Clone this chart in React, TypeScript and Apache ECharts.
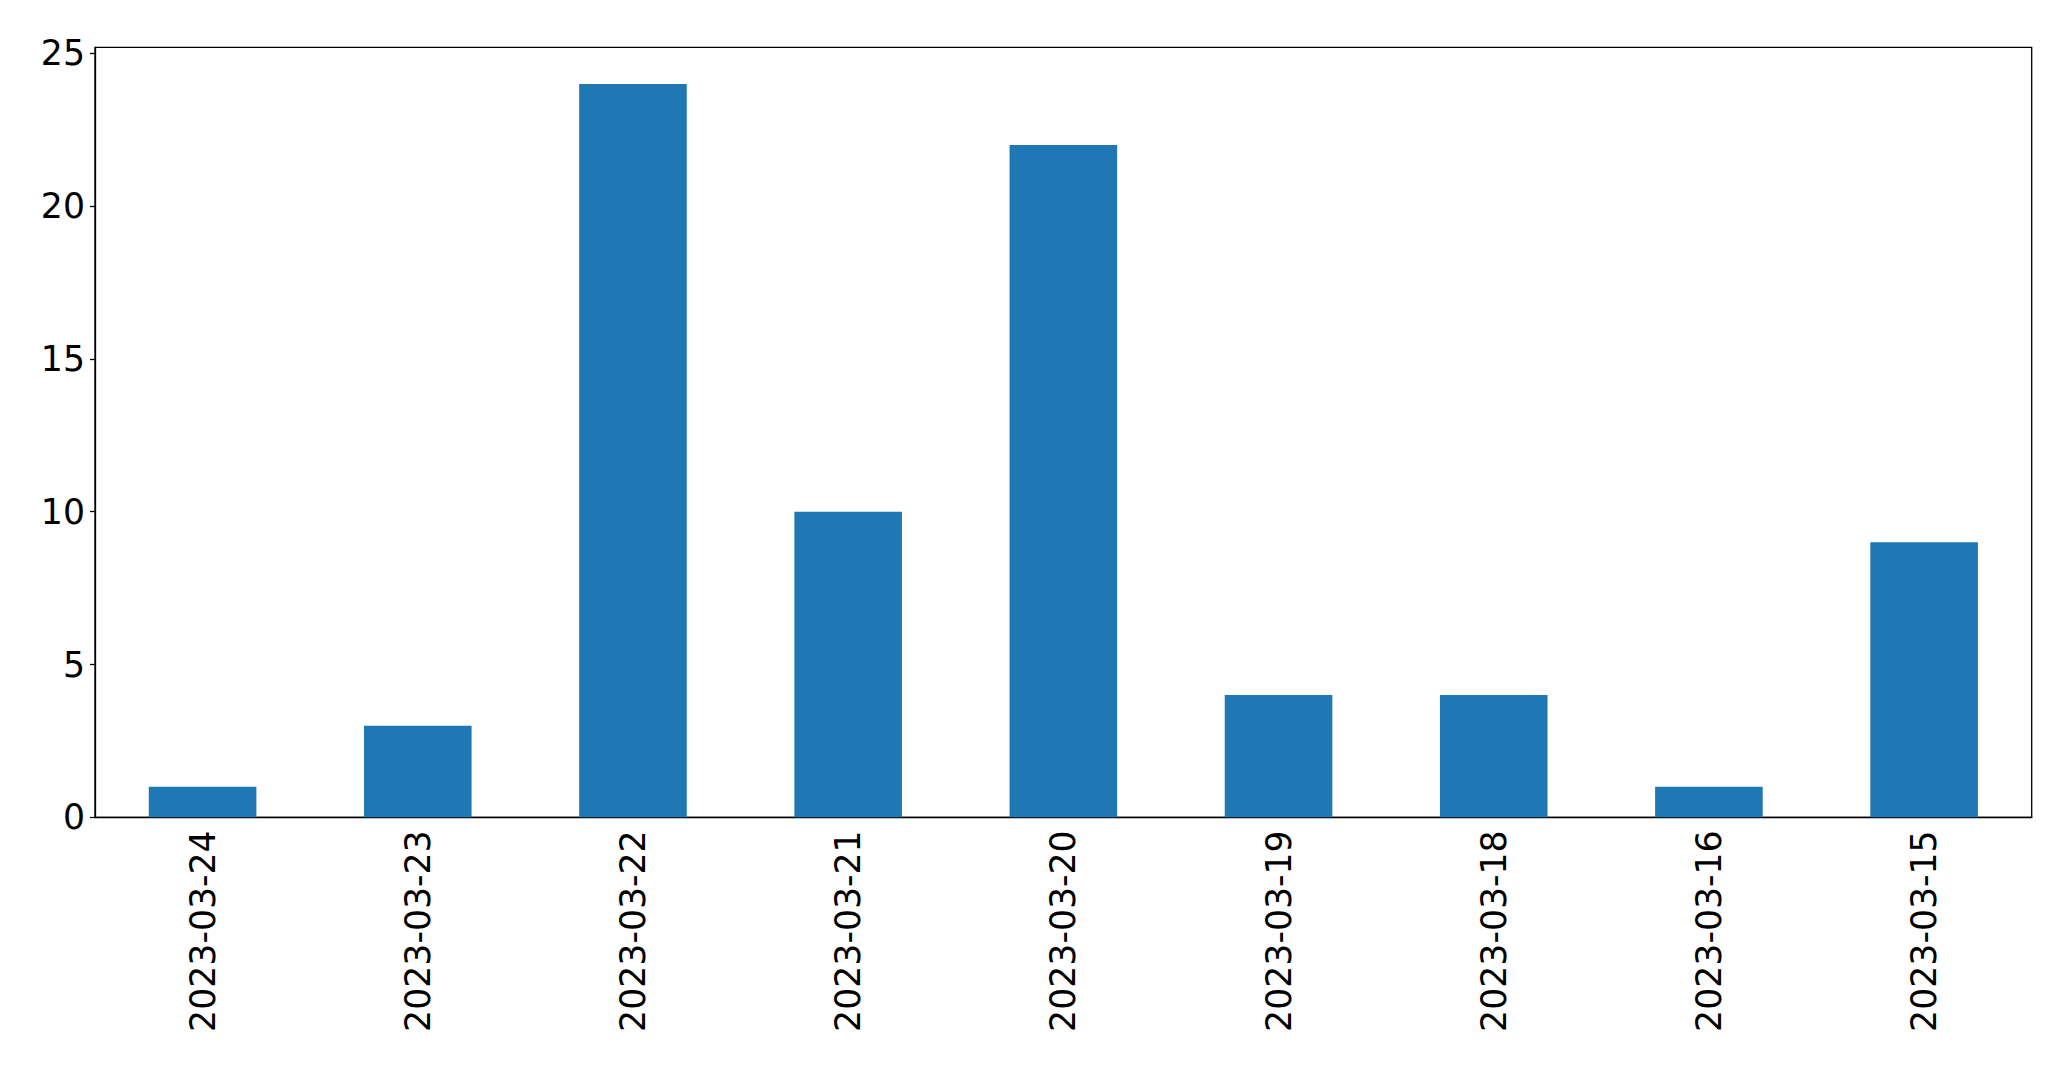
import React, { useEffect, useRef } from "react";
import * as echarts from "echarts";

const categories = ["2023-03-24", "2023-03-23", "2023-03-22", "2023-03-21", "2023-03-20", "2023-03-19", "2023-03-18", "2023-03-16", "2023-03-15"];
const counts = [1, 3, 24, 10, 22, 4, 4, 1, 9];
const yTicks = [0, 5, 10, 15, 20, 25];

export default function App() {
  const ref = useRef<HTMLDivElement>(null);
  useEffect(() => {
    if (!ref.current) return;
    const chart = echarts.init(ref.current, null, { renderer: "svg" });
    const font = { fontFamily: "DejaVu Sans", fontSize: 34.7, color: "#000" };
    chart.setOption({
      animation: false,
      backgroundColor: "#fff",
      grid: {
        left: 95,
        top: 47.3,
        right: 39.3,
        bottom: 251.7,
        show: true,
        borderColor: "#000",
        borderWidth: 1.3,
        backgroundColor: "transparent",
      },
      xAxis: {
        type: "category",
        data: categories,
        boundaryGap: true,
        axisLine: { lineStyle: { color: "#000", width: 1.3 } },
        axisTick: { alignWithLabel: true, length: 5, lineStyle: { color: "#000", width: 1.3 } },
        axisLabel: { ...font, rotate: 90, margin: 13, interval: 0 },
        splitLine: { show: false },
      },
      yAxis: {
        type: "value",
        min: 0,
        max: 25.2,
        axisLine: { show: true, lineStyle: { color: "#000", width: 1.3 } },
        axisTick: { show: true, length: 5, customValues: yTicks, lineStyle: { color: "#000", width: 1.3 } },
        axisLabel: { ...font, margin: 10, customValues: yTicks },
        splitLine: { show: false },
      },
      series: [
        {
          type: "bar",
          data: counts,
          barWidth: "50%",
          itemStyle: { color: "#1f77b4" },
        },
      ],
    });
    return () => chart.dispose();
  }, []);
  return <div ref={ref} style={{ position: "fixed", left: 0, top: 0, width: 2071, height: 1069 }} />;
}
